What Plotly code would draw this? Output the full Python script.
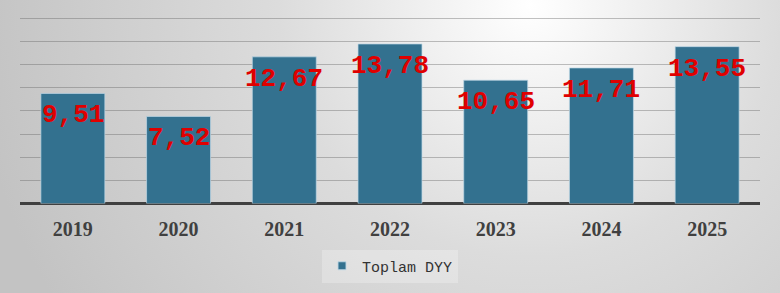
import base64
import plotly.graph_objects as go

years = ["2019", "2020", "2021", "2022", "2023", "2024", "2025"]
values = [9.51, 7.52, 12.67, 13.78, 10.65, 11.71, 13.55]
series_name = "Toplam DYY"
labels = [f"{v:.2f}".replace(".", ",") for v in values]

W, H = 780, 293
bar_color = "#33718F"

svg = f"""<svg xmlns='http://www.w3.org/2000/svg' width='{W}' height='{H}' viewBox='0 0 {W} {H}'>
<defs><radialGradient id='g' gradientUnits='userSpaceOnUse' cx='530' cy='5' r='560'>
<stop offset='0' stop-color='#ffffff'/>
<stop offset='0.45' stop-color='#dcdcdc'/>
<stop offset='1' stop-color='#c3c3c3'/>
</radialGradient></defs>
<rect width='{W}' height='{H}' fill='url(#g)'/>
</svg>"""
bg_src = "data:image/svg+xml;base64," + base64.b64encode(svg.encode()).decode()

fig = go.Figure()
fig.add_trace(go.Bar(
    x=years, y=values, name=series_name,
    marker=dict(color=bar_color, line=dict(color="rgba(190,215,230,0.7)", width=1)),
    showlegend=False,
))
fig.add_trace(go.Scatter(
    x=[years[0]], y=[None], name=series_name, mode="markers",
    marker=dict(symbol="square", size=8, color=bar_color,
                line=dict(color="rgba(190,215,230,0.9)", width=1)),
    showlegend=True, hoverinfo="skip",
))

# data labels: category index positions on the category axis
for i, (v, t) in enumerate(zip(values, labels)):
    fig.add_annotation(
        x=i, y=v, text=t, showarrow=False, yshift=-22,
        font=dict(family="Liberation Mono", size=26, color="#E00000", weight="bold"),
    )

y_base = 203.5
px_per = (y_base - 18.3) / 16
ymax = 16.2
y_top_px = y_base - ymax * px_per

fig.update_layout(
    width=W, height=H,
    margin=dict(l=0, r=0, t=0, b=0, pad=0, autoexpand=False),
    paper_bgcolor="#d6d6d6",
    plot_bgcolor="rgba(0,0,0,0)",
    bargap=0.395,
    images=[dict(source=bg_src, xref="paper", yref="paper", x=0, y=1,
                 sizex=1, sizey=1, xanchor="left", yanchor="top",
                 sizing="stretch", layer="below")],
    xaxis=dict(
        type="category", categoryorder="array", categoryarray=years,
        range=[-0.5, len(years) - 0.5], autorange=False,
        domain=[20 / W, 760 / W], automargin=False,
        showgrid=False, showline=False, zeroline=False,
        ticks="outside", ticklen=7, tickcolor="rgba(0,0,0,0)",
        tickfont=dict(family="Liberation Serif", size=20, color="#404040", weight="bold"),
    ),
    yaxis=dict(
        domain=[(H - y_base) / H, (H - y_top_px) / H],
        range=[0, ymax], autorange=False, dtick=2, automargin=False,
        showgrid=True, gridcolor="rgba(100,100,100,0.4)", gridwidth=1,
        zeroline=True, zerolinecolor="#404040", zerolinewidth=3,
        showticklabels=False, showline=False,
    ),
    legend=dict(
        orientation="h", x=0.5, xanchor="center", y=(H - 266) / H, yanchor="middle",
        bgcolor="rgba(255,255,255,0.25)",
        font=dict(family="Liberation Mono", size=15, color="#333333"),
        itemwidth=30,
    ),
    showlegend=True,
)

fig.write_html("out.html")
